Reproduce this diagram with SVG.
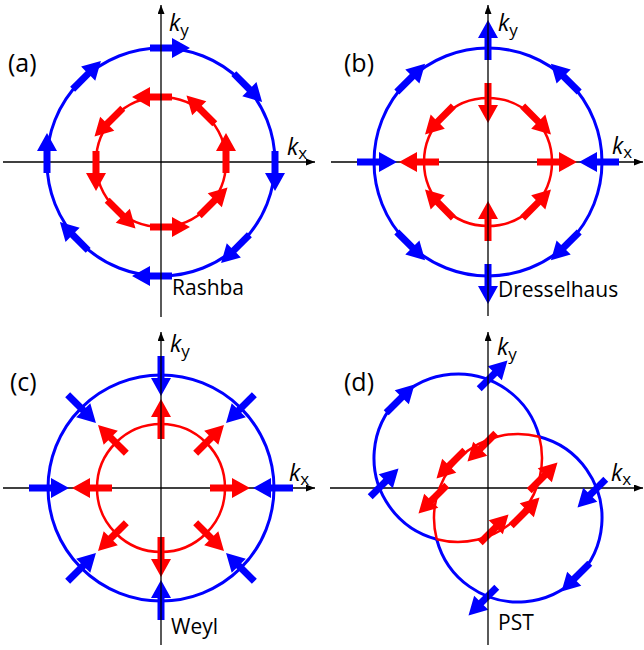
<svg xmlns="http://www.w3.org/2000/svg" xmlns:xlink="http://www.w3.org/1999/xlink" width="644" height="650" viewBox="0 0 644 650">
<style>
.ax{stroke:#000;stroke-width:1.3;fill:none}
.bc{stroke:#0000FF;stroke-width:3;fill:none}
.rc{stroke:#FF0000;stroke-width:2.5;fill:none}
.b{fill:#0000FF}
.r{fill:#FF0000}
text{font-family:"Open Sans","Noto Sans",sans-serif;fill:#000}
.lbl{font-size:25px}
.nm{font-size:21px}
.k{font-size:23px}
.k .i{font-style:italic}
.k .s{font-size:17px}
</style>
<defs>
<marker id="ah" markerWidth="9" markerHeight="7" refX="9" refY="3.5" orient="auto" markerUnits="userSpaceOnUse"><path d="M0,0L9,3.5L0,7Z" fill="#000"/></marker>
<path id="arr" d="M-11,-3.5H11V-10L29,0L11,10V3.5H-11Z"/>
</defs>

<!-- Panel (a) Rashba -->
<g id="panel-a">
<line class="ax" x1="3" y1="162" x2="315" y2="162" marker-end="url(#ah)"/>
<circle class="bc" cx="161" cy="162" r="114"/>
<circle class="rc" cx="161" cy="162" r="65"/>
<g class="b">
<use xlink:href="#arr" transform="translate(275,162) rotate(90)"/>
<use xlink:href="#arr" transform="translate(241.6,242.6) rotate(135)"/>
<use xlink:href="#arr" transform="translate(161,276) rotate(180)"/>
<use xlink:href="#arr" transform="translate(80.4,242.6) rotate(225)"/>
<use xlink:href="#arr" transform="translate(47,162) rotate(270)"/>
<use xlink:href="#arr" transform="translate(80.4,81.4) rotate(315)"/>
<use xlink:href="#arr" transform="translate(161,48) rotate(0)"/>
<use xlink:href="#arr" transform="translate(241.6,81.4) rotate(45)"/>
</g>
<g class="r">
<use xlink:href="#arr" transform="translate(226,162) rotate(-90)"/>
<use xlink:href="#arr" transform="translate(207,208) rotate(-45)"/>
<use xlink:href="#arr" transform="translate(161,227) rotate(0)"/>
<use xlink:href="#arr" transform="translate(115,208) rotate(45)"/>
<use xlink:href="#arr" transform="translate(96,162) rotate(90)"/>
<use xlink:href="#arr" transform="translate(115,116) rotate(135)"/>
<use xlink:href="#arr" transform="translate(161,97) rotate(180)"/>
<use xlink:href="#arr" transform="translate(207,116) rotate(225)"/>
</g>
<line class="ax" x1="161" y1="317" x2="161" y2="5" marker-end="url(#ah)"/>
<text class="lbl" x="8" y="72">(a)</text>
<text class="k" x="169" y="31"><tspan class="i">k</tspan><tspan class="s" dy="5">y</tspan></text>
<text class="k" x="287" y="155"><tspan class="i">k</tspan><tspan class="s" dy="4">x</tspan></text>
<text class="nm" x="172" y="295">Rashba</text>
</g>

<!-- Panel (b) Dresselhaus -->
<g id="panel-b">
<line class="ax" x1="331" y1="162" x2="643" y2="162" marker-end="url(#ah)"/>
<circle class="bc" cx="488" cy="162" r="114"/>
<circle class="rc" cx="488" cy="162" r="64"/>
<g class="b">
<use xlink:href="#arr" transform="translate(602,162) rotate(180) translate(-6,0)"/>
<use xlink:href="#arr" transform="translate(568.6,242.6) rotate(135) translate(-4,0)"/>
<use xlink:href="#arr" transform="translate(488,276) rotate(90) translate(-1,0)"/>
<use xlink:href="#arr" transform="translate(407.4,242.6) rotate(45) translate(-4,0)"/>
<use xlink:href="#arr" transform="translate(374,162) rotate(0) translate(-6,0)"/>
<use xlink:href="#arr" transform="translate(407.4,81.4) rotate(-45) translate(-4,0)"/>
<use xlink:href="#arr" transform="translate(488,48) rotate(-90) translate(-1,0)"/>
<use xlink:href="#arr" transform="translate(568.6,81.4) rotate(-135) translate(-4,0)"/>
</g>
<g class="r">
<use xlink:href="#arr" transform="translate(552,162) rotate(0) translate(-4,0)"/>
<use xlink:href="#arr" transform="translate(533.3,207.3) rotate(-45) translate(-4,0)"/>
<use xlink:href="#arr" transform="translate(488,226) rotate(-90) translate(-4,0)"/>
<use xlink:href="#arr" transform="translate(442.7,207.3) rotate(-135) translate(-4,0)"/>
<use xlink:href="#arr" transform="translate(424,162) rotate(180) translate(-4,0)"/>
<use xlink:href="#arr" transform="translate(442.7,116.7) rotate(135) translate(-4,0)"/>
<use xlink:href="#arr" transform="translate(488,98) rotate(90) translate(-4,0)"/>
<use xlink:href="#arr" transform="translate(533.3,116.7) rotate(45) translate(-4,0)"/>
</g>
<line class="ax" x1="488" y1="316" x2="488" y2="5" marker-end="url(#ah)"/>
<text class="lbl" x="344" y="72">(b)</text>
<text class="k" x="498" y="31"><tspan class="i">k</tspan><tspan class="s" dy="5">y</tspan></text>
<text class="k" x="612" y="154"><tspan class="i">k</tspan><tspan class="s" dy="4">x</tspan></text>
<text class="nm" x="498" y="297">Dresselhaus</text>
</g>

<!-- Panel (c) Weyl -->
<g id="panel-c">
<line class="ax" x1="3" y1="488" x2="315" y2="488" marker-end="url(#ah)"/>
<circle class="bc" cx="161" cy="488" r="113"/>
<circle class="rc" cx="161" cy="488" r="64"/>
<g class="b">
<use xlink:href="#arr" transform="translate(274,488) rotate(180) translate(-8,0)"/>
<use xlink:href="#arr" transform="translate(240.9,567.9) rotate(225) translate(-8,0)"/>
<use xlink:href="#arr" transform="translate(161,601) rotate(270) translate(-8,0)"/>
<use xlink:href="#arr" transform="translate(81.1,567.9) rotate(315) translate(-8,0)"/>
<use xlink:href="#arr" transform="translate(48,488) rotate(0) translate(-8,0)"/>
<use xlink:href="#arr" transform="translate(81.1,408.1) rotate(45) translate(-8,0)"/>
<use xlink:href="#arr" transform="translate(161,375) rotate(90) translate(-8,0)"/>
<use xlink:href="#arr" transform="translate(240.9,408.1) rotate(135) translate(-8,0)"/>
</g>
<g class="r">
<use xlink:href="#arr" transform="translate(225,488) rotate(0) translate(-4,0)"/>
<use xlink:href="#arr" transform="translate(206.3,533.3) rotate(45) translate(-4,0)"/>
<use xlink:href="#arr" transform="translate(161,552) rotate(90) translate(-4,0)"/>
<use xlink:href="#arr" transform="translate(115.7,533.3) rotate(135) translate(-4,0)"/>
<use xlink:href="#arr" transform="translate(97,488) rotate(180) translate(-4,0)"/>
<use xlink:href="#arr" transform="translate(115.7,442.7) rotate(225) translate(-4,0)"/>
<use xlink:href="#arr" transform="translate(161,424) rotate(270) translate(-4,0)"/>
<use xlink:href="#arr" transform="translate(206.3,442.7) rotate(315) translate(-4,0)"/>
</g>
<line class="ax" x1="161" y1="645" x2="161" y2="332" marker-end="url(#ah)"/>
<text class="lbl" x="10" y="391">(c)</text>
<text class="k" x="170" y="352"><tspan class="i">k</tspan><tspan class="s" dy="5">y</tspan></text>
<text class="k" x="289" y="481"><tspan class="i">k</tspan><tspan class="s" dy="4">x</tspan></text>
<text class="nm" x="171" y="634">Weyl</text>
</g>

<!-- Panel (d) PST -->
<g id="panel-d">
<line class="ax" x1="330" y1="488" x2="643" y2="488" marker-end="url(#ah)"/>
<path class="bc" d="M539.26,436.74A84,84 0 1 0 436.74,539.26"/>
<path class="bc" d="M539.26,436.74A84,84 0 1 1 436.74,539.26"/>
<path class="rc" d="M539.26,436.74A84,84 0 0 1 436.74,539.26"/>
<path class="rc" d="M539.26,436.74A84,84 0 0 0 436.74,539.26"/>
<g class="b">
<use xlink:href="#arr" transform="translate(487,381) rotate(-45)"/>
<use xlink:href="#arr" transform="translate(394,405) rotate(-45)"/>
<use xlink:href="#arr" transform="translate(378,489) rotate(-45)"/>
<use xlink:href="#arr" transform="translate(489,595) rotate(135)"/>
<use xlink:href="#arr" transform="translate(582,571) rotate(135)"/>
<use xlink:href="#arr" transform="translate(598,487) rotate(135)"/>
</g>
<g class="r">
<use xlink:href="#arr" transform="translate(488,441) rotate(135)"/>
<use xlink:href="#arr" transform="translate(457,458) rotate(135)"/>
<use xlink:href="#arr" transform="translate(439,493) rotate(135)"/>
<use xlink:href="#arr" transform="translate(488,535) rotate(-45)"/>
<use xlink:href="#arr" transform="translate(519,518) rotate(-45)"/>
<use xlink:href="#arr" transform="translate(537,483) rotate(-45)"/>
</g>
<line class="ax" x1="488" y1="645" x2="488" y2="332" marker-end="url(#ah)"/>
<text class="lbl" x="344" y="391">(d)</text>
<text class="k" x="497" y="355"><tspan class="i">k</tspan><tspan class="s" dy="5">y</tspan></text>
<text class="k" x="611" y="481"><tspan class="i">k</tspan><tspan class="s" dy="4">x</tspan></text>
<text class="nm" x="498" y="630">PST</text>
</g>
</svg>
